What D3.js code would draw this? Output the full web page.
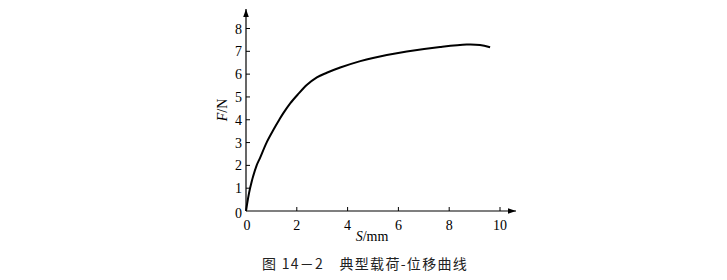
<!DOCTYPE html>
<html><head><meta charset="utf-8">
<script src="https://cdn.jsdelivr.net/npm/d3@7"></script>
<style>body{margin:0;background:#fff}svg{display:block}</style>
</head><body>
<svg id="c" width="727" height="280"></svg>
<script>
const displacement = [0, 0.16, 0.42, 0.55, 0.81, 1.08, 1.31, 1.47, 1.74, 2.05, 2.39, 2.79, 3.18, 3.71, 4.5, 5.0, 6.33, 7.64, 8.69, 9.21, 9.61];
const load =         [0, 1.0, 2.0, 2.32, 3.0, 3.56, 4.0, 4.29, 4.72, 5.12, 5.52, 5.86, 6.06, 6.29, 6.57, 6.71, 6.99, 7.19, 7.30, 7.28, 7.18];
const xTicks = [0, 2, 4, 6, 8, 10];
const yTicks = [0, 1, 2, 3, 4, 5, 6, 7, 8];
const caption = "图 14－2　典型载荷-位移曲线";

const svg = d3.select("#c");
const x = d3.scaleLinear().domain([0, 10]).range([246, 500]);
const y = d3.scaleLinear().domain([0, 8]).range([211, 28.5]);
const serif = "'Liberation Serif', 'DejaVu Serif', serif";

svg.append("defs").append("marker").attr("id","arr").attr("viewBox","0 0 10 10")
  .attr("refX",10).attr("refY",5).attr("markerWidth",14).attr("markerHeight",8)
  .attr("markerUnits","userSpaceOnUse").attr("orient","auto")
  .append("path").attr("d","M0,1.5 L10,5 L0,8.5 Z").attr("fill","#000");

svg.append("line").attr("x1", x(0)).attr("y1", y(0)).attr("x2", 516).attr("y2", y(0))
  .attr("stroke","#000").attr("stroke-width",1.2).attr("marker-end","url(#arr)");
svg.append("line").attr("x1", x(0)).attr("y1", y(0)).attr("x2", x(0)).attr("y2", 9)
  .attr("stroke","#000").attr("stroke-width",1.2).attr("marker-end","url(#arr)");

const xa = svg.append("g");
xa.selectAll("line").data(xTicks.filter(d=>d>0)).join("line")
  .attr("x1", d=>x(d)).attr("x2", d=>x(d)).attr("y1", y(0)).attr("y2", y(0)-4)
  .attr("stroke","#000").attr("stroke-width",1);
xa.selectAll("text").data(xTicks).join("text")
  .attr("x", d=>x(d)+ (d===0?1:0)).attr("y", 230).attr("text-anchor","middle")
  .attr("font-family", serif).attr("font-size", 14).text(d=>d);

const ya = svg.append("g");
ya.selectAll("line").data(yTicks.filter(d=>d>0)).join("line")
  .attr("x1", x(0)).attr("x2", x(0)+4).attr("y1", d=>y(d)).attr("y2", d=>y(d))
  .attr("stroke","#000").attr("stroke-width",1);
ya.selectAll("text").data(yTicks).join("text")
  .attr("x", 242).attr("y", d=>y(d)+5 + (d===0?2:0)).attr("text-anchor","end")
  .attr("font-family", serif).attr("font-size", 14).text(d=>d);

const xt = svg.append("text").attr("x", 372).attr("y", 241).attr("text-anchor","middle")
  .attr("font-family", serif).attr("font-size", 14);
xt.append("tspan").attr("font-style","italic").text("S");
xt.append("tspan").text("/mm");

const yt = svg.append("text").attr("transform","translate(227,110) rotate(-90)")
  .attr("text-anchor","middle").attr("font-family", serif).attr("font-size", 14);
yt.append("tspan").attr("font-style","italic").text("F");
yt.append("tspan").text("/N");

const pts = displacement.map((d,i)=>[d, load[i]]);
svg.append("path").datum(pts)
  .attr("d", d3.line().x(d=>x(d[0])).y(d=>y(d[1])).curve(d3.curveCatmullRom.alpha(0.5)))
  .attr("fill","none").attr("stroke","#000").attr("stroke-width",2);

svg.append("text").attr("x", 365).attr("y", 269).attr("text-anchor","middle")
  .attr("font-family", "'Noto Sans CJK SC', sans-serif").attr("font-size", 14)
  .attr("letter-spacing", "1.3px")
  .attr("fill","#222").text(caption);
</script>
</body></html>
